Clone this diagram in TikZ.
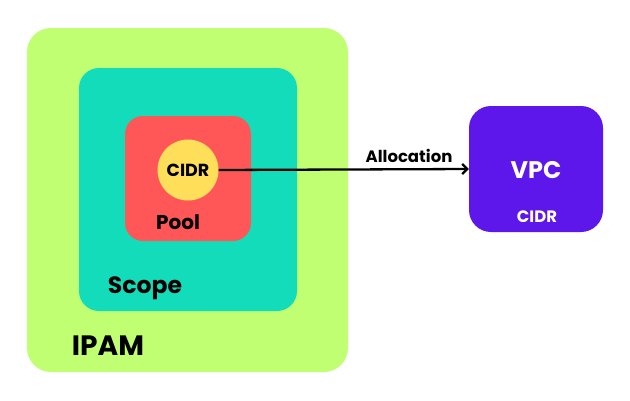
\documentclass[tikz,border=0pt]{standalone}
\usepackage{fontspec}
\setmainfont{Poppins}
\usetikzlibrary{arrows.meta}
\definecolor{ipamc}{HTML}{C1FF72}
\definecolor{scopec}{HTML}{12DCB9}
\definecolor{poolc}{HTML}{FF5757}
\definecolor{cidrc}{HTML}{FFDE59}
\definecolor{vpcc}{HTML}{5E17EB}
\newcommand{\fsz}[1]{\bfseries\fontsize{#1}{#1}\selectfont}
\begin{document}
\begin{tikzpicture}[x=1pt,y=-1pt,
  lbl/.style={text=black, inner sep=0pt, anchor=base}]
\useasboundingbox (0,0) rectangle (630,400);
\fill[white] (0,0) rectangle (630,400);
\fill[ipamc, rounded corners=24] (27,28) rectangle (348,372);
\fill[scopec, rounded corners=20] (79,68) rectangle (297,311);
\fill[poolc, rounded corners=18] (125,116) rectangle (251,241);
\node[circle, fill=cidrc, minimum size=61pt, inner sep=0pt] (cidr) at (188,170) {};
\node[lbl, font=\fsz{17.5}] (cidrtxt) at (188,176.5) {CIDR};
\node[lbl, font=\fsz{20}] (pool) at (178,229) {Pool};
\node[lbl, font=\fsz{23.5}] (scope) at (145,293.5) {Scope};
\node[lbl, font=\fsz{28}] (ipam) at (108,355.5) {IPAM};
\node[fill=vpcc, rounded corners=22, minimum width=134pt, minimum height=126pt, inner sep=0pt] (vpc) at (536,169) {};
\node[lbl, text=white, font=\fsz{24}] (vpctxt) at (536,178.5) {VPC};
\node[lbl, text=white, font=\fsz{16.5}] (vpccidr) at (537,222.5) {CIDR};
\draw[line width=2.3pt, -{Straight Barb[length=5pt,width=10pt]}] (cidr.east) -- (vpc.west);
\node[lbl, font=\fsz{16.5}] (alloc) at (409,162) {Allocation};
\end{tikzpicture}
\end{document}
